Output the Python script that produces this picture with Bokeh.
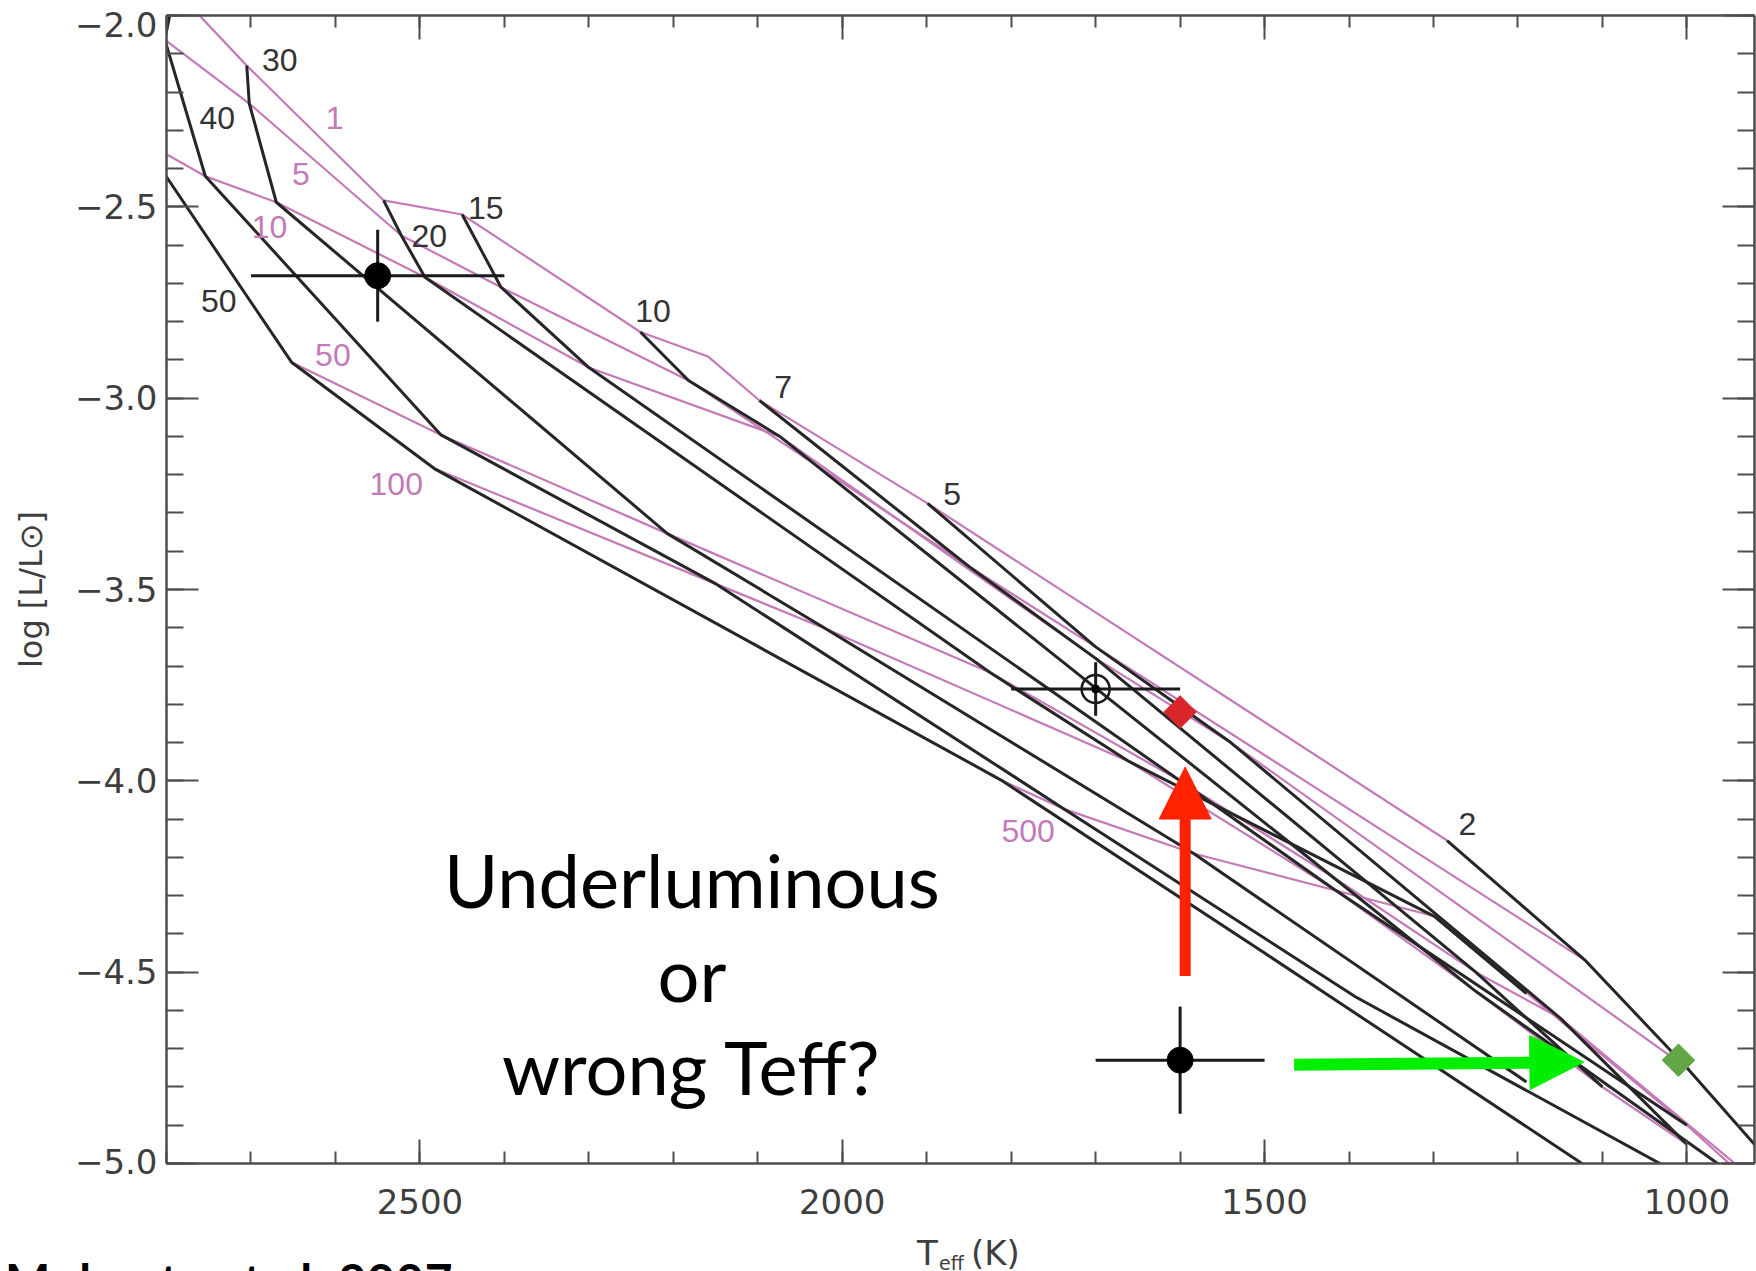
import math
from bokeh.plotting import figure
from bokeh.layouts import column
from bokeh.models import (Range1d, LinearAxis, FixedTicker, Label, Arrow, NormalHead,
                          CustomJSTickFormatter, Div)
from bokeh.embed import file_html
from bokeh.resources import INLINE

# ---- evolutionary grid: Teff (K) and log L/Lsun at each age (Myr) per mass (M_Jup)
ages_myr = [1, 5, 10, 50, 100, 500, 1000, 5000]

teff_50 = [2891, 2864, 2829, 2652, 2483, 1812, 1500, 1073]
logl_50 = [-1.58, -1.785, -2.327, -2.906, -3.184, -3.998, -4.450, -5.075]
teff_40 = [2790, 2802, 2754, 2475, 2149, 1737, 1392, 994]
logl_40 = [-1.932, -2.063, -2.420, -3.096, -3.486, -4.074, -4.565, -5.046]
teff_30 = [2705, 2702, 2670, 2207, 2019, 1584, 1190]
logl_30 = [-2.131, -2.230, -2.488, -3.354, -3.603, -4.190, -4.787]
teff_20 = [2543, 2522, 2494, 1825, 1660, 1299, 1190]
logl_20 = [-2.483, -2.575, -2.684, -3.717, -3.950, -4.354, -4.556]
teff_15 = [2450, 2404, 2300, 1600, 1420, 1000]
logl_15 = [-2.520, -2.710, -2.920, -4.000, -4.280, -4.900]
teff_10 = [2239, 2182, 2074, 1420, 1250, 900]
logl_10 = [-2.827, -2.954, -3.100, -4.250, -4.550, -5.100]
teff_8 = [2159]
logl_8 = [-2.891]
teff_7 = [2098, 1850, 1700, 1250, 1100]
logl_7 = [-3.006, -3.440, -3.680, -4.500, -4.800]
teff_5 = [1899, 1700, 1540, 1150, 1000]
logl_5 = [-3.275, -3.650, -3.900, -4.620, -4.950]
teff_2 = [1284, 1120, 1000, 780]
logl_2 = [-4.156, -4.470, -4.750, -5.300]

grid_masses = [50, 40, 30, 20, 15, 10, 8, 7, 5, 2]
drawn_tracks = [50, 40, 30, 20, 15, 10, 7, 5, 2]
isochrone_ages = [1, 5, 10, 50, 100, 500]

track_labels = ["30", "40", "50", "20", "15", "10", "7", "5", "2"]
track_label_teff = [2666, 2740, 2738, 2489, 2422, 2224, 2070, 1870, 1260]
track_label_logl = [-2.116, -2.268, -2.745, -2.575, -2.502, -2.771, -2.970, -3.251, -4.112]

iso_labels = ["1", "5", "10", "50", "100", "500"]
iso_label_teff = [2601, 2641, 2678, 2603, 2528, 1780]
iso_label_logl = [-2.268, -2.414, -2.552, -2.886, -3.225, -4.130]

# ---- observed objects
obj_a_teff, obj_a_teff_err = 2550, 150
obj_a_logl, obj_a_logl_err = -2.68, 0.12
obj_open_teff, obj_open_teff_err = 1700, 100
obj_open_logl, obj_open_logl_err = -3.76, 0.07
obj_b_teff, obj_b_teff_err = 1600, 100
obj_b_logl, obj_b_logl_err = -4.73, 0.14
pred_red_teff, pred_red_logl = 1600, -3.82
pred_green_teff, pred_green_logl = 1010, -4.73

red_arrow_teff = [1594, 1594]
red_arrow_logl = [-4.51, -3.964]
green_arrow_teff = [1465, 1122]
green_arrow_logl = [-4.742, -4.735]

question_lines = ["Underluminous", "or", "wrong Teff?"]
question_logl = [-4.258, -4.504, -4.747]
question_teff = 2178

grid = {
    50: (teff_50, logl_50), 40: (teff_40, logl_40), 30: (teff_30, logl_30),
    20: (teff_20, logl_20), 15: (teff_15, logl_15), 10: (teff_10, logl_10),
    8: (teff_8, logl_8), 7: (teff_7, logl_7), 5: (teff_5, logl_5), 2: (teff_2, logl_2),
}

BLACK = "#262626"
MAGENTA = "#c47ab6"
AXIS = "#4d4d4d"
TICKTEXT = "#3e3e3e"
TICKFONT = "DejaVu Sans"

p = figure(width=1756, height=1228, x_range=Range1d(2800, 920), y_range=Range1d(-5.0, -2.0),
           output_backend="svg", toolbar_location=None,
           x_axis_location=None, y_axis_location=None,
           min_border_left=166, min_border_right=2, min_border_top=15, min_border_bottom=65)
p.xgrid.visible = False
p.ygrid.visible = False
p.outline_line_color = None

x_major = [1000, 1500, 2000, 2500]
x_minor = list(range(900, 2900, 100))
y_major = [-5.0, -4.5, -4.0, -3.5, -3.0, -2.5, -2.0]
y_minor = [round(-5.0 + 0.1 * i, 1) for i in range(31)]


def style_axis(ax, major_len, minor_len):
    ax.axis_line_color = AXIS
    ax.axis_line_width = 2.5
    ax.major_tick_line_color = AXIS
    ax.major_tick_line_width = 2
    ax.minor_tick_line_color = AXIS
    ax.minor_tick_line_width = 2
    ax.major_tick_in = major_len
    ax.major_tick_out = 0
    ax.minor_tick_in = minor_len
    ax.minor_tick_out = 0
    ax.major_label_text_font = TICKFONT
    ax.major_label_text_font_size = "34px"
    ax.major_label_text_color = TICKTEXT


blank = CustomJSTickFormatter(code="return '';")

xb = LinearAxis(ticker=FixedTicker(ticks=x_major, minor_ticks=x_minor))
style_axis(xb, 24, 12)
xb.major_label_standoff = 25
p.add_layout(xb, "below")

xt = LinearAxis(ticker=FixedTicker(ticks=x_major, minor_ticks=x_minor), formatter=blank)
style_axis(xt, 24, 12)
xt.major_label_standoff = 0
p.add_layout(xt, "above")

# end labels are nudged inward (an empty line before/after them) so they stay inside the page
y_label_text = {v: ("\u2212%.1f" % abs(v)) for v in y_major}
y_label_text[-2.0] = "\n" + y_label_text[-2.0]
y_label_text[-5.0] = y_label_text[-5.0] + "\n"

yl = LinearAxis(ticker=FixedTicker(ticks=y_major, minor_ticks=y_minor))
style_axis(yl, 32, 17)
yl.major_label_standoff = 9
yl.major_label_overrides = y_label_text
yl.major_label_text_line_height = 0.1
yl.axis_label = "log [L/L\u2299]"
yl.axis_label_text_font = TICKFONT
yl.axis_label_text_font_size = "32px"
yl.axis_label_text_font_style = "normal"
yl.axis_label_text_color = TICKTEXT
yl.axis_label_standoff = 22
p.add_layout(yl, "left")

yr = LinearAxis(ticker=FixedTicker(ticks=y_major, minor_ticks=y_minor), formatter=blank)
style_axis(yr, 32, 17)
yr.major_label_standoff = 0
p.add_layout(yr, "right")

# isochrones (constant age) across the mass grid
for k, age in enumerate(isochrone_ages):
    xs, ys = [], []
    for m in grid_masses:
        t, l = grid[m]
        if k < len(t):
            xs.append(t[k])
            ys.append(l[k])
    p.line(xs, ys, line_color=MAGENTA, line_width=2.2)

# mass tracks
for m in drawn_tracks:
    t, l = grid[m]
    p.line(t, l, line_color=BLACK, line_width=3)

# curve labels
for txt, tx, ty in zip(track_labels, track_label_teff, track_label_logl):
    p.add_layout(Label(x=tx, y=ty, text=txt, text_align="center", text_baseline="middle",
                       text_font="Liberation Sans", text_font_size="32px", text_color="#333333"))
for txt, tx, ty in zip(iso_labels, iso_label_teff, iso_label_logl):
    p.add_layout(Label(x=tx, y=ty, text=txt, text_align="center", text_baseline="middle",
                       text_font="Liberation Sans", text_font_size="32px", text_color=MAGENTA))

# error bars and points
ERR = "#1a1a1a"
for (tx, dtx, ly, dly) in [(obj_a_teff, obj_a_teff_err, obj_a_logl, obj_a_logl_err),
                           (obj_open_teff, obj_open_teff_err, obj_open_logl, obj_open_logl_err),
                           (obj_b_teff, obj_b_teff_err, obj_b_logl, obj_b_logl_err)]:
    p.segment(x0=[tx - dtx, tx], y0=[ly, ly - dly], x1=[tx + dtx, tx], y1=[ly, ly + dly],
              line_color=ERR, line_width=3)

p.scatter([obj_a_teff, obj_b_teff], [obj_a_logl, obj_b_logl], size=26, marker="circle",
          fill_color="black", line_color="black")
p.scatter([obj_open_teff], [obj_open_logl], size=28, marker="circle", fill_color=None,
          line_color=ERR, line_width=2.5)
p.scatter([obj_open_teff], [obj_open_logl], size=8, marker="circle", fill_color="black",
          line_color="black")

p.scatter([pred_red_teff], [pred_red_logl], size=23, marker="square", angle=math.pi / 4,
          fill_color="#d8262b", line_color="#d8262b")
p.scatter([pred_green_teff], [pred_green_logl], size=23, marker="square", angle=math.pi / 4,
          fill_color="#62a646", line_color="#62a646")

p.add_layout(Arrow(end=NormalHead(size=52, fill_color="#ff2200", line_color="#ff2200"),
                   x_start=red_arrow_teff[0], y_start=red_arrow_logl[0],
                   x_end=red_arrow_teff[1], y_end=red_arrow_logl[1],
                   line_color="#ff2200", line_width=11))
p.add_layout(Arrow(end=NormalHead(size=54, fill_color="#00ee00", line_color="#00ee00"),
                   x_start=green_arrow_teff[0], y_start=green_arrow_logl[0],
                   x_end=green_arrow_teff[1], y_end=green_arrow_logl[1],
                   line_color="#00ee00", line_width=12))

GILL = "Lato"
for txt, ty in zip(question_lines, question_logl):
    p.add_layout(Label(x=question_teff, y=ty, text=txt, text_align="center",
                       text_baseline="middle", text_font=GILL, text_font_size="74px",
                       text_color="black"))


# ---- strip under the axis: x title (with subscript) and the source note
def span(txt, left, top, family, size, color, weight="normal", extra=""):
    return ('<span style="position:absolute;left:%dpx;top:%.1fpx;font-family:\'%s\';'
            'font-size:%dpx;line-height:1;color:%s;font-weight:%s;white-space:pre;%s">%s</span>'
            % (left, top, family, size, color, weight, extra, txt))


strip_html = (
    '<div style="position:relative;width:1756px;height:43px;overflow:hidden;background:#ffffff;">'
    + span("T", 912, 3.3, TICKFONT, 34, TICKTEXT)
    + span("eff", 934, 20.8, TICKFONT, 19, TICKTEXT)
    + span("(K)", 966, 3.3, TICKFONT, 34, TICKTEXT)
    + span("Mohanty et al. 2007", 0, 23.8, GILL, 48, "#000000", "bold", "letter-spacing:1px;")
    + '</div>'
)
strip = Div(text=strip_html, width=1756, height=43)

layout = column(p, strip, spacing=0)
open("out.html", "w").write(file_html(layout, INLINE))
